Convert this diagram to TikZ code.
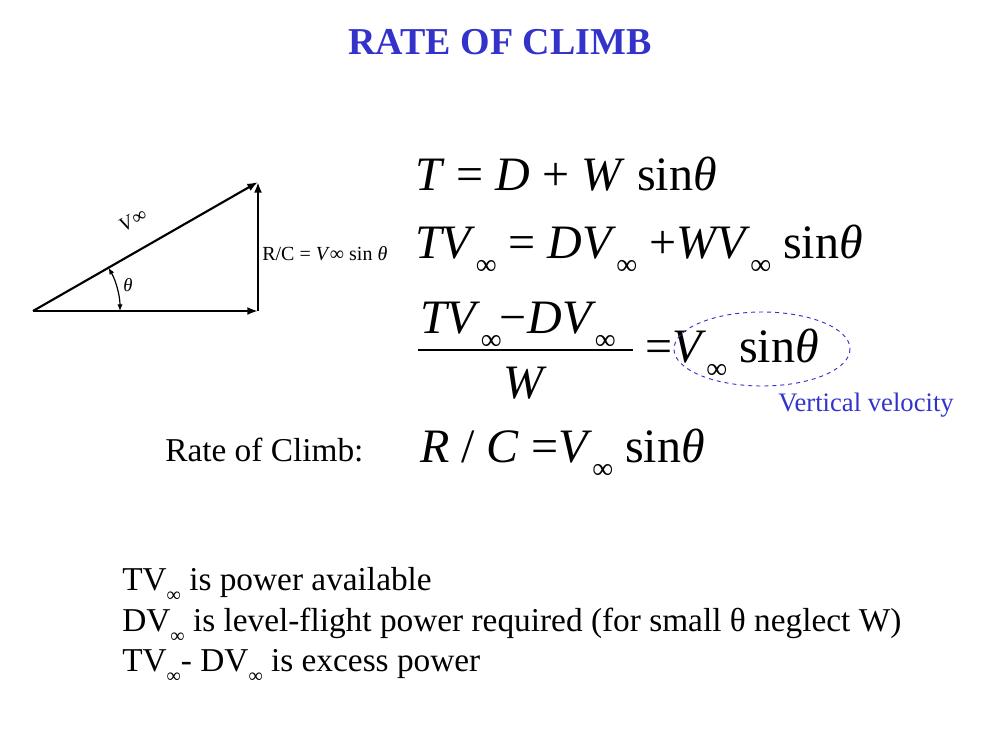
\documentclass[tikz,border=0pt]{standalone}
\usepackage{fontspec}
\setmainfont{Liberation Serif}
\usetikzlibrary{arrows.meta}
\definecolor{tblue}{RGB}{51,51,204}
\newcommand{\infs}[1]{\raisebox{-0.35em}{\fontsize{#1}{#1}\selectfont ∞}}
\newcommand{\eqf}{\fontsize{36}{36}\selectfont}
\begin{document}
\begin{tikzpicture}[x=0.75pt,y=-0.75pt,
  arr/.style={line width=1.6pt,-{Latex[length=8pt,width=6pt]}},
  eq/.style={anchor=base west,inner sep=0pt,font=\eqf},
  txt/.style={anchor=base west,inner sep=0pt,font=\fontsize{25}{25}\selectfont}]
\useasboundingbox (0,0) rectangle (1000,750);
\node[font=\bfseries\fontsize{28.5}{28.5}\selectfont,text=tblue] (title) at (500,42) {RATE OF CLIMB};
% triangle
\coordinate (O) at (33,311);
\coordinate (B) at (258,311);
\coordinate (A) at (258,182);
\draw[arr] (O) -- (B);
\draw[arr] (B) -- (A);
\draw[arr] (O) -- (A);
\draw[line width=0.9pt,{Latex[length=5pt,width=4pt]}-{Latex[length=5pt,width=4pt]}] (120,311) arc (0:-29.8:87);
\node[font=\itshape\fontsize{14}{14}\selectfont] (th) at (128,285) {θ};
\node[rotate=29.8,font=\fontsize{15}{15}\selectfont] (vl) at (133,220) {\textit{V}∞};
\node[anchor=west,inner sep=0pt,font=\fontsize{15}{15}\selectfont] (rc) at (262,254) {R/C = \textit{V}∞ sin \textit{θ}};
% equations
\node[eq] (e1) at (415,190) {\textit{T} = \textit{D} + \textit{W} sin\textit{θ}};
\node[eq] (e2) at (415,258) {\textit{TV}\infs{22} = \textit{DV}\infs{22} +\textit{WV}\infs{22} sin\textit{θ}};
\node[eq] (e3n) at (420,333) {\textit{TV}\infs{22}\kern-2pt−\kern1pt\textit{DV}\kern-1pt\infs{22}};
\draw[line width=0.9pt] (418,350) -- (633,350);
\node[eq] (e3d) at (503,398) {\textit{W}};
\node[eq] (e3r) at (645,362) {=\textit{V}\infs{22} sin\textit{θ}};
\draw[tblue,dashed,line width=0.7pt] (762,349) ellipse (88 and 37);
\node[anchor=base west,inner sep=0pt,text=tblue,font=\fontsize{20}{20}\selectfont] (vv) at (778,411) {Vertical velocity};
\node[txt] (rl) at (165,461) {Rate of Climb:};
\node[eq] (e4) at (420,462) {\textit{R} / \textit{C} =\textit{V}\infs{22} sin\textit{θ}};
% bottom text
\node[txt] (b1) at (122,590) {TV\infs{15} is power available};
\node[txt] (b2) at (122,631) {DV\infs{15} is level-flight power required (for small θ neglect W)};
\node[txt] (b3) at (122,671) {TV\infs{15}- DV\infs{15} is excess power};
\end{tikzpicture}
\end{document}
